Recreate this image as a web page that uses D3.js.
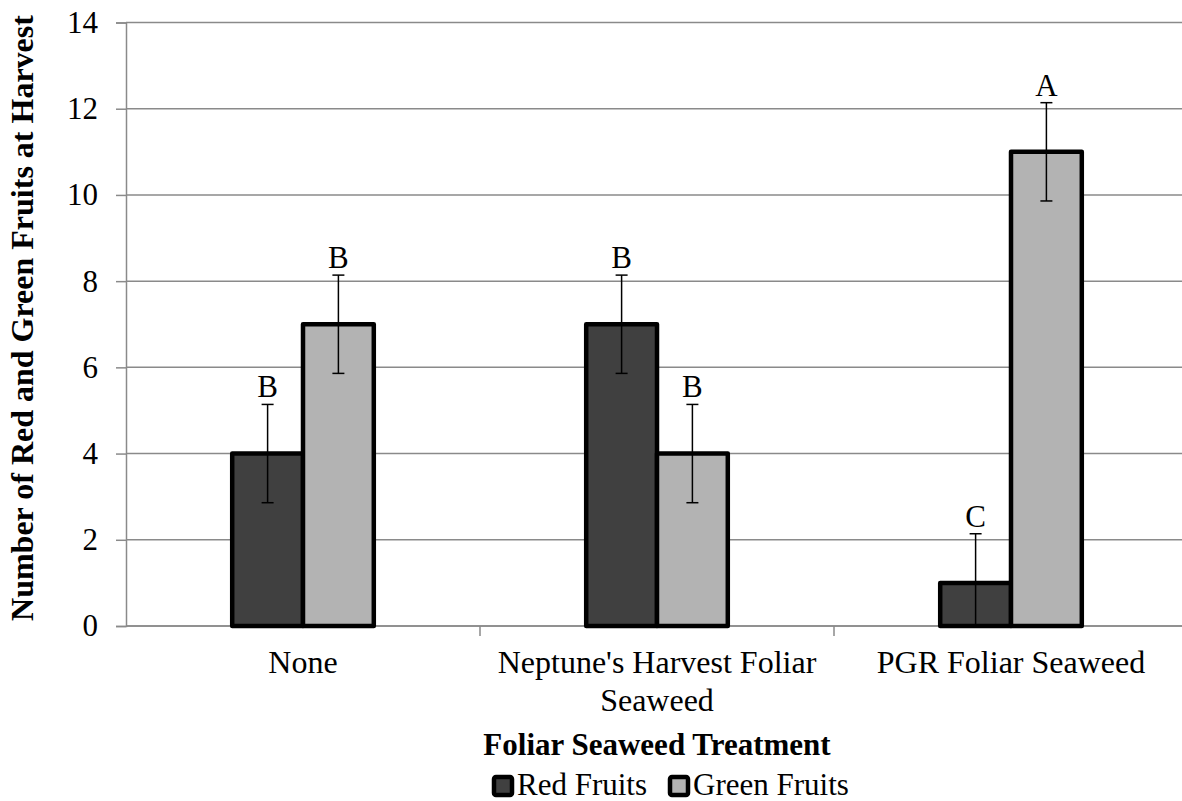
<!DOCTYPE html>
<html>
<head>
<meta charset="utf-8">
<script src="https://cdn.jsdelivr.net/npm/d3@7"></script>
<style>
  html, body { margin: 0; padding: 0; background: #fff; }
  svg { display: block; }
  text { font-family: "Liberation Serif", "Times New Roman", serif; fill: #000; }
</style>
</head>
<body>
<svg id="chart" width="1182" height="801"></svg>
<script>
// Treatments on the x axis
const categories = ["None", "Neptune's Harvest Foliar Seaweed", "PGR Foliar Seaweed"];
// Series
const seriesNames = ["Red Fruits", "Green Fruits"];
const redFruits = [4, 7, 1];
const greenFruits = [7, 4, 11];
// Error bar half-lengths
const redErr = [1.14, 1.14, 1.14];
const greenErr = [1.14, 1.14, 1.14];
// Mean separation letters
const redLetters = ["B", "B", "C"];
const greenLetters = ["B", "B", "A"];
// Y axis ticks
const yTicks = [0, 2, 4, 6, 8, 10, 12, 14];

const seriesColors = ["#404040", "#b3b3b3"];

const svg = d3.select("#chart");
const plotLeft = 126, plotRight = 1188, plotTop = 22.5, plotBottom = 626;

const x = d3.scaleBand().domain(categories).range([plotLeft, plotRight]).padding(0);
const bw = x.bandwidth();
const xs = d3.scaleBand().domain(seriesNames).range([bw * 0.3, bw * 0.7]).padding(0);
const y = d3.scaleLinear().domain([0, 14]).range([plotBottom, plotTop]);

const rows = categories.map((c, i) => ({
  cat: c,
  vals: [
    { s: seriesNames[0], v: redFruits[i], e: redErr[i], l: redLetters[i], c: seriesColors[0] },
    { s: seriesNames[1], v: greenFruits[i], e: greenErr[i], l: greenLetters[i], c: seriesColors[1] }
  ]
}));

// Horizontal gridlines
svg.append("g").selectAll("line").data(yTicks).join("line")
  .attr("x1", plotLeft).attr("x2", 1182)
  .attr("y1", d => y(d)).attr("y2", d => y(d))
  .attr("stroke", "#8a8a8a").attr("stroke-width", 1.5);

// Y axis
const yAxis = svg.append("g").attr("transform", `translate(${plotLeft},0)`)
  .call(d3.axisLeft(y).tickValues(yTicks).tickSize(10).tickPadding(18).tickFormat(d3.format("d")));
yAxis.select(".domain").attr("stroke", "#8a8a8a").attr("stroke-width", 1.5);
yAxis.selectAll(".tick line").attr("stroke", "#8a8a8a").attr("stroke-width", 1.5);
yAxis.selectAll(".tick text").attr("font-size", 31).attr("font-family", "Liberation Serif").attr("fill", "#000");

// X axis baseline and category boundary ticks
svg.append("line").attr("x1", plotLeft).attr("x2", 1182).attr("y1", plotBottom).attr("y2", plotBottom)
  .attr("stroke", "#8a8a8a").attr("stroke-width", 1.5);
svg.append("g").selectAll("line").data(categories.slice(1)).join("line")
  .attr("x1", d => x(d)).attr("x2", d => x(d))
  .attr("y1", plotBottom).attr("y2", plotBottom + 10)
  .attr("stroke", "#8a8a8a").attr("stroke-width", 1.5);

// Bars
const groups = svg.append("g").selectAll("g").data(rows).join("g")
  .attr("transform", d => `translate(${x(d.cat)},0)`);

groups.selectAll("rect").data(d => d.vals).join("rect")
  .attr("x", d => xs(d.s))
  .attr("width", xs.bandwidth())
  .attr("y", d => y(d.v))
  .attr("height", d => y(0) - y(d.v))
  .attr("fill", d => d.c)
  .attr("stroke", "#000").attr("stroke-width", 4.5)
  .attr("stroke-linejoin", "round");

// Error bars
const eb = groups.selectAll("g.err").data(d => d.vals).join("g").attr("class", "err")
  .attr("transform", d => `translate(${xs(d.s) + xs.bandwidth() / 2},0)`);
eb.append("line").attr("x1", 0).attr("x2", 0)
  .attr("y1", d => y(d.v + d.e)).attr("y2", d => y(Math.max(0, d.v - d.e)))
  .attr("stroke", "#000").attr("stroke-width", 1.5);
eb.append("line").attr("x1", -6).attr("x2", 6)
  .attr("y1", d => y(d.v + d.e)).attr("y2", d => y(d.v + d.e))
  .attr("stroke", "#000").attr("stroke-width", 1.5);
eb.filter(d => d.v - d.e > 0).append("line").attr("x1", -6).attr("x2", 6)
  .attr("y1", d => y(d.v - d.e)).attr("y2", d => y(d.v - d.e))
  .attr("stroke", "#000").attr("stroke-width", 1.5);

// Letters above error bars
eb.append("text").attr("text-anchor", "middle").attr("font-size", 31)
  .attr("y", d => y(d.v + d.e) - 7)
  .text(d => d.l);

// Category labels, wrapped to the band width
const catLabels = svg.append("g").selectAll("text").data(categories).join("text")
  .attr("text-anchor", "middle").attr("font-size", 32)
  .attr("x", d => x(d) + bw / 2).attr("y", 673);
catLabels.each(function(d) {
  const t = d3.select(this);
  const words = d.split(" ");
  let line = [];
  let tspan = t.append("tspan").attr("x", x(d) + bw / 2).attr("dy", 0);
  words.forEach(w => {
    line.push(w);
    tspan.text(line.join(" "));
    if (tspan.node().getComputedTextLength() > 330 && line.length > 1) {
      line.pop();
      tspan.text(line.join(" "));
      line = [w];
      tspan = t.append("tspan").attr("x", x(d) + bw / 2).attr("dy", 38).text(w);
    }
  });
});

// Axis titles
svg.append("text").attr("text-anchor", "middle").attr("font-size", 31).attr("font-weight", "bold")
  .attr("x", (x(categories[1]) + bw / 2)).attr("y", 755)
  .text("Foliar Seaweed Treatment");
svg.append("text").attr("text-anchor", "middle").attr("font-size", 32).attr("font-weight", "bold")
  .attr("transform", "translate(33,318) rotate(-90)")
  .text("Number of Red and Green Fruits at Harvest");

// Legend
const legend = svg.append("g");
const legItems = [
  { name: seriesNames[0], color: seriesColors[0], x: 492 },
  { name: seriesNames[1], color: seriesColors[1], x: 668 }
];
const li = legend.selectAll("g").data(legItems).join("g")
  .attr("transform", d => `translate(${d.x},0)`);
li.append("rect").attr("x", 2).attr("y", 777).attr("width", 18).attr("height", 18)
  .attr("rx", 2).attr("fill", d => d.color)
  .attr("stroke", "#000").attr("stroke-width", 4.5).attr("stroke-linejoin", "round");
li.append("text").attr("x", 25).attr("y", 795).attr("font-size", 31).text(d => d.name);
</script>
</body>
</html>
